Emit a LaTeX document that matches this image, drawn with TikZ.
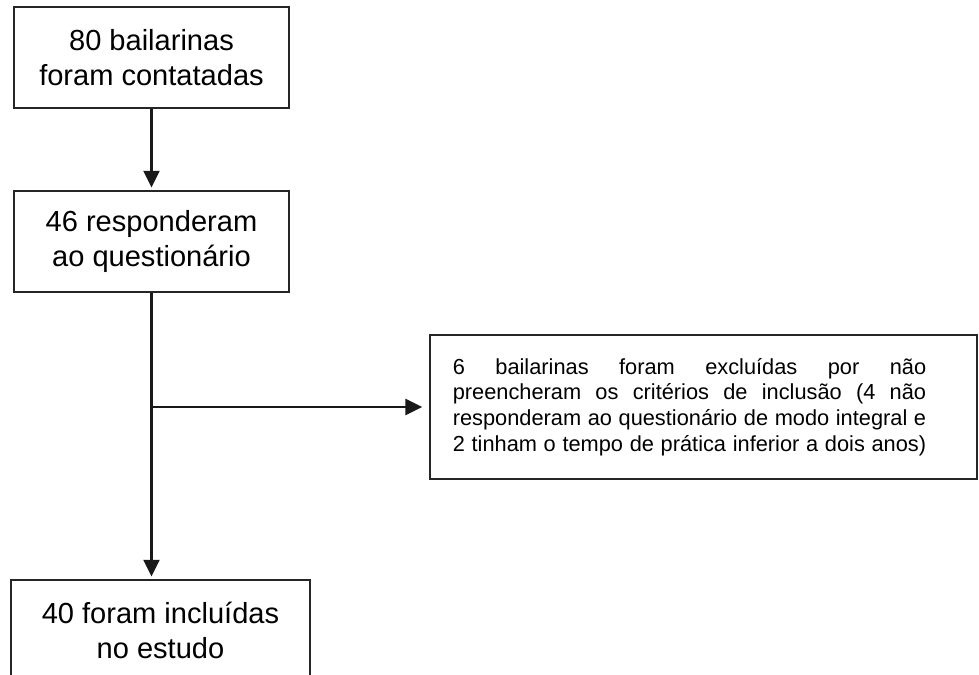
\documentclass[tikz,border=0pt]{standalone}
\usepackage{fontspec}
\setmainfont{Liberation Sans}
\usepackage{tikz}
\usetikzlibrary{arrows.meta,positioning}
\tikzset{
stagebox/.style={rectangle,draw=black!85,line width=2pt,fill=white,
  minimum width=8.25cm,minimum height=3.03cm,align=center,
  font=\fontsize{24.8}{30}\selectfont},
exclbox/.style={rectangle,draw=black!85,line width=2pt,fill=white,
  minimum width=16.41cm,minimum height=4.32cm,inner xsep=0pt,
  font=\fontsize{18.6}{22}\selectfont},
flowarr/.style={line width=2pt,draw=black!90,-{Triangle[length=0.5cm,width=0.48cm]}}
}
\begin{document}
\begin{tikzpicture}[x=0.03cm,y=-0.03cm]
\useasboundingbox (0,0) rectangle (979,675);
\node[stagebox] (contact) at (151.5,57.5) {80 bailarinas\\foram contatadas};
\node[stagebox] (respond) at (151.5,241.5) {46 responderam\\ao questionário};
\node[stagebox,minimum width=8.97cm] (include) at (160.5,630.5) {40 foram incluídas\\no estudo};
\node[exclbox] (exclude) at (703.5,407) {\parbox{14.2cm}{\parfillskip=0pt
6 bailarinas foram excluídas por não\linebreak
preencheram os critérios de inclusão (4 não\linebreak
responderam ao questionário de modo integral e\linebreak
2 tinham o tempo de prática inferior a dois anos)}\kern0.84cm};
\coordinate (split) at (respond.south |- exclude.west);
\draw[flowarr,shorten >=2pt] (contact) -- (respond);
\draw[flowarr,shorten >=2pt] (respond.south) -- (respond.south |- include.north);
\draw[flowarr,shorten >=0.2cm] (split) -- (exclude.west);
\end{tikzpicture}
\end{document}
